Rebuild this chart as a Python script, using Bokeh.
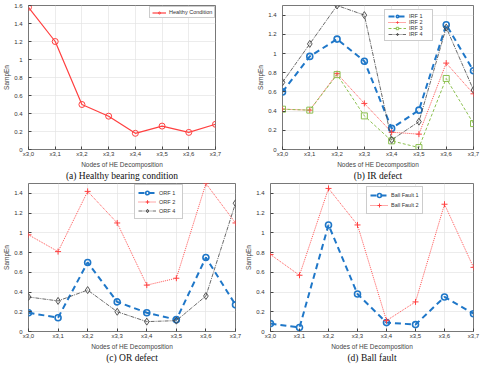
from bokeh.plotting import figure
from bokeh.layouts import column, row
from bokeh.models import Range1d, FixedTicker, Legend, LegendItem, LinearAxis
from bokeh.embed import file_html
from bokeh.resources import INLINE

nodes = ["x3,0", "x3,1", "x3,2", "x3,3", "x3,4", "x3,5", "x3,6", "x3,7"]
xs = list(range(len(nodes)))

healthy = [1.58, 1.20, 0.50, 0.37, 0.18, 0.26, 0.19, 0.28]

irf1 = [0.60, 0.97, 1.15, 0.92, 0.22, 0.41, 1.30, 0.82]
irf2 = [0.42, 0.41, 0.79, 0.48, 0.18, 0.16, 0.90, 0.58]
irf3 = [0.42, 0.41, 0.78, 0.35, 0.09, 0.02, 0.74, 0.27]
irf4 = [0.70, 1.10, 1.50, 1.40, 0.10, 0.29, 1.27, 0.62]

orf1 = [0.19, 0.14, 0.70, 0.30, 0.19, 0.12, 0.75, 0.27]
orf2 = [0.98, 0.81, 1.42, 1.10, 0.47, 0.54, 1.50, 1.10]
orf4 = [0.35, 0.31, 0.42, 0.20, 0.10, 0.11, 0.36, 1.30]

ball1 = [0.08, 0.04, 1.08, 0.38, 0.09, 0.07, 0.35, 0.18]
ball2 = [0.78, 0.57, 1.45, 1.08, 0.11, 0.30, 1.29, 0.65]

yticks_a = [0, 0.2, 0.4, 0.6, 0.8, 1.0, 1.2, 1.4, 1.6]
yticks = [0, 0.2, 0.4, 0.6, 0.8, 1.0, 1.2, 1.4]

captions = ["(a) Healthy bearing condition", "(b) IR defect", "(c) OR defect", "(d) Ball fault"]

SANS = "Liberation Sans"
SERIF = "Liberation Serif"

BLUE = "#1f77c8"
RED = "#ff4040"
GREEN = "#8cc050"
GRAY = "#444444"

styles = {
    "blue": dict(color=BLUE, width=2.0, dash="6 4", marker="circle", size=6, mlw=1.6),
    "red": dict(color=RED, width=0.9, dash="1 1", marker="cross", size=6, mlw=1.0),
    "redsolid": dict(color=RED, width=1.2, dash="solid", marker="circle", size=6, mlw=1.0),
    "green": dict(color=GREEN, width=1.0, dash="3 2", marker="square", size=6, mlw=1.0),
    "gray": dict(color=GRAY, width=0.8, dash="4 1 1 1", marker="diamond", size=7, mlw=0.9),
}


def make_fig(fw, fh, mb, ymax, ticks, caption):
    p = figure(frame_width=fw, frame_height=fh, output_backend="svg", toolbar_location=None,
               x_range=Range1d(0, 7), y_range=Range1d(0, ymax),
               min_border_left=mb[0], min_border_right=mb[1],
               min_border_top=mb[2], min_border_bottom=mb[3])
    p.outline_line_color = "#555555"
    p.outline_line_width = 0.8
    p.background_fill_color = "white"
    p.border_fill_color = "white"
    p.xaxis.ticker = FixedTicker(ticks=xs)
    p.xaxis.major_label_overrides = {i: n for i, n in zip(xs, nodes)}
    p.yaxis.ticker = FixedTicker(ticks=ticks)
    p.yaxis.major_label_overrides = {t: ("%g" % t) for t in ticks}
    for ax in (p.xaxis[0], p.yaxis[0]):
        ax.axis_line_color = None
        ax.major_tick_in = 3
        ax.major_tick_out = 0
        ax.major_tick_line_color = "#444444"
        ax.minor_tick_line_color = None
        ax.major_label_text_font = SANS
        ax.major_label_text_font_size = "6px"
        ax.major_label_text_color = "#333333"
        ax.axis_label_text_font = SANS
        ax.axis_label_text_font_size = "6.5px"
        ax.axis_label_text_color = "#444444"
        ax.axis_label_text_font_style = "normal"
        ax.axis_label_standoff = 1
    p.xaxis.major_label_standoff = 1
    p.yaxis.major_label_standoff = 6
    p.yaxis.major_label_orientation = "horizontal"
    p.xaxis.axis_label = "Nodes of HE Decomposition"
    p.yaxis.axis_label = "SampEn"
    p.xgrid.ticker = FixedTicker(ticks=xs)
    p.ygrid.ticker = FixedTicker(ticks=ticks)
    p.grid.grid_line_color = "#e4e4e4"
    p.grid.grid_line_width = 0.7
    cap = LinearAxis(ticker=FixedTicker(ticks=[]), axis_label=caption,
                     axis_line_color=None, major_tick_in=0, major_tick_out=0,
                     minor_tick_line_color=None, major_label_text_font_size="0px",
                     major_label_standoff=0, axis_label_standoff=0,
                     axis_label_text_font=SERIF, axis_label_text_font_size="9.5px",
                     axis_label_text_font_style="normal", axis_label_text_color="#111111")
    p.add_layout(cap, "below")
    return p


def add_series(p, ys, style, label, items):
    s = styles[style]
    ln = p.line(xs, ys, line_color=s["color"], line_width=s["width"], line_dash=s["dash"])
    sc = p.scatter(xs, ys, marker=s["marker"], size=s["size"], line_color=s["color"],
                   fill_color=None, line_width=s["mlw"])
    items.append(LegendItem(label=label, renderers=[ln, sc]))


def add_legend(p, items, loc, lh, gw=18, pad=3):
    lg = Legend(items=items, location=loc, label_text_font=SANS, label_text_font_size="5.5px",
                label_text_color="#333333", glyph_width=gw, glyph_height=lh, label_height=lh,
                spacing=0, padding=pad, margin=0, label_standoff=3,
                border_line_color="#999999", border_line_width=0.7,
                background_fill_color="white", background_fill_alpha=1.0)
    p.add_layout(lg)


# Panel a
pa = make_fig(187, 144, (26, 39, 5, 28), 1.6, yticks_a, captions[0])
items = []
add_series(pa, healthy, "redsolid", "Healthy Condition", items)
add_legend(pa, items, (121, 131), 5, gw=14, pad=2)

# Panel b
pb = make_fig(191, 144, (26, 11, 5, 28), 1.5, yticks, captions[1])
items = []
add_series(pb, irf1, "blue", "IRF 1", items)
add_series(pb, irf2, "red", "IRF 2", items)
add_series(pb, irf3, "green", "IRF 3", items)
add_series(pb, irf4, "gray", "IRF 4", items)
add_legend(pb, items, (102, 108), 6)

# Panel c
pc = make_fig(207, 148, (26, 7, 0, 34), 1.5, yticks, captions[2])
items = []
add_series(pc, orf1, "blue", "ORF 1", items)
add_series(pc, orf2, "red", "ORF 2", items)
add_series(pc, orf4, "gray", "ORF 4", items)
add_legend(pc, items, (106, 112), 9)

# Panel d
pd_ = make_fig(203, 148, (26, 11, 0, 34), 1.5, yticks, captions[3])
items = []
add_series(pd_, ball1, "blue", "Ball Fault 1", items)
add_series(pd_, ball2, "red", "Ball Fault 2", items)
add_legend(pd_, items, (96, 117), 10)

layout = column(row(pa, pb), row(pc, pd_))

open("out.html", "w").write(file_html(layout, INLINE))
